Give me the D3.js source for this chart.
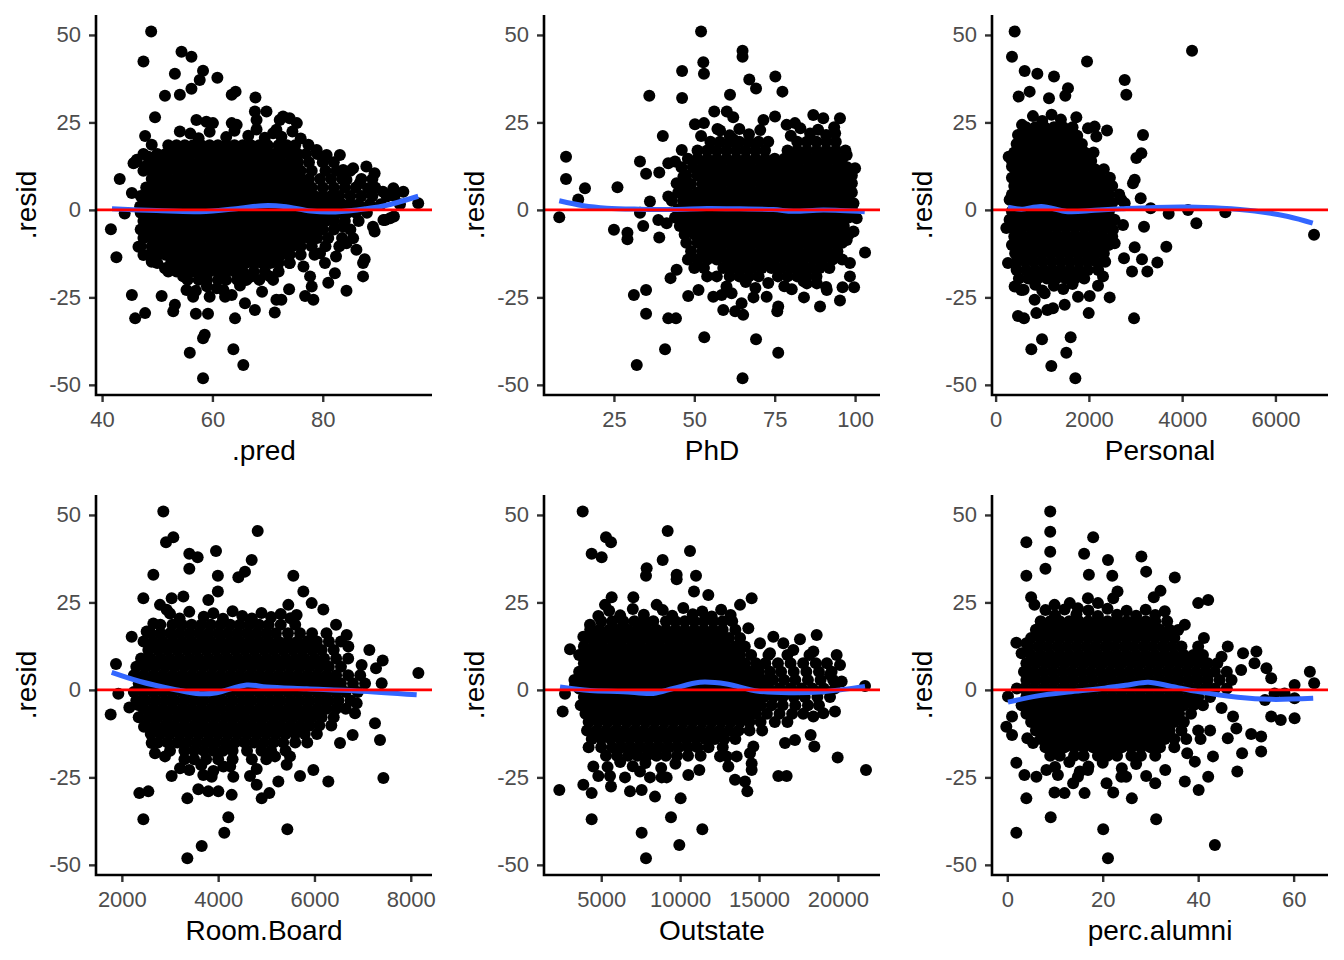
<!DOCTYPE html>
<html>
<head>
<meta charset="utf-8">
<script src="https://cdn.jsdelivr.net/npm/d3@7"></script>
<style>
  body { margin: 0; background: #fff; }
  svg { display: block; font-family: "Liberation Sans", Arial, sans-serif; }
</style>
</head>
<body>
<div id="chart"></div>
<script>
// ---------------- data ----------------
// residual axis shared by every panel
let resid_domain = [-52.9, 55.7];
let resid_ticks = [-50, -25, 0, 25, 50];

let var_names = [".pred", "PhD", "Personal", "Room.Board", "Outstate", "perc.alumni"];
let x_domains = [[38.9, 99.8], [3.25, 107.75], [-77.5, 7127.5], [1463, 8441], [1372, 22668], [-3.2, 67.2]];
let x_ticks = [[40, 60, 80], [25, 50, 75, 100], [0, 2000, 4000, 6000], [2000, 4000, 6000, 8000], [5000, 10000, 15000, 20000], [0, 20, 40, 60]];

// scattered points [x, resid]
let pred_pts = [[48.9,51],[47.5,42.4],[54.4,45.2],[56.2,43.8],[53.2,38.9],[58.3,39.8],[57.7,37.1],[56.2,34.6],[60.9,37.8],[51.4,32.6],[54.1,32.9],[49.6,26.5],[63.5,32.9],[64.2,33.8],[67.8,32.1],[67.7,28.1],[69.8,28.1],[72.2,25.7],[74,26.2],[75.3,24.8],[72.8,26.7],[47.8,21.1],[54.1,22.4],[57.1,25.7],[58.9,25.2],[60.1,24.8],[63.5,24.8],[64.4,24.3],[68,25.7],[71.6,22.9],[43.2,8.8],[45.4,4.8],[44.1,-1],[41.6,-5.5],[42.6,-13.5],[45.4,-24.3],[46,-31],[47.8,-29.5],[50.8,-24.6],[53.2,-27.1],[52.9,-29],[57,-29.7],[59.2,-29.7],[64.1,-31],[65.9,-26.7],[67.7,-28.6],[71.3,-29.3],[71.6,-25.7],[72.5,-25.7],[73.9,-22.7],[76.8,-24.6],[78.3,-25.7],[78,-21.9],[77.7,-19],[81,-20.8],[82.2,-18.1],[80.4,-15.2],[82.4,-13.3],[84.3,-23.1],[87.3,-19],[87.3,-15.2],[87.6,-14.1],[89.4,-6.2],[89.1,-4.8],[91.3,-2.9],[92.9,-1.9],[97.3,1.9],[58.3,-36.7],[58.6,-35.7],[55.9,-40.8],[63.8,-39.8],[65.6,-44.3],[58.3,-48.1],[77.4,18.6],[78.9,17.1],[80.7,15.7],[83.1,15.7],[80.1,14.8],[83.7,11.4],[85.5,11.9],[87.9,12.4],[89.4,10.5],[84.3,8.6],[86.7,7.6],[88.2,6.2],[90.9,5.2],[92.8,6.2],[94.6,5.2],[91.6,3.8],[91,-2.9],[92.2,-2.4],[45.7,13.3],[46.3,14.3],[47.8,12.4],[48.4,15.2],[49,18.6],[46.9,1],[48.1,1.9],[46.6,-10.5],[47.5,-12.9],[49,-14.8],[51.4,-16.7],[53.5,-17.6],[54.7,-19],[55.3,-22.9],[56.5,-24.8],[59.5,-24.8],[62.3,-24.8],[63.5,-24.3],[60.8,-22.4],[66.2,-20],[67.1,-19],[70.4,-19],[74,-15.2],[76.5,-16.2],[79.5,-12.4],[84.3,-9.5],[85.5,-8.1],[86.1,-11.4],[83.7,-4.8],
  [56,21.8],[57.5,20.5],[59.5,22.3],[62.5,20.8],[64,22.6],[66.5,21.2],[68,23],[69.5,20.6],[71,21.9],[72.5,20.9],[74.5,22.4],[76,20.4],
  [57,-23.1],[59,-21.8],[62,-22.9],[65,-21.6],[69,-23.4]];

let phd_pts = [[52.1,51],[52.8,42.2],[53,38.9],[65,45.5],[65,43.8],[46.2,39.7],[67.1,37.3],[69.2,34.7],[75.2,38.1],[77.4,33.8],[36,32.6],[46.2,32],[61.1,32.9],[56.2,28.1],[60.1,28.1],[62.1,26.5],[50.2,24.5],[53,24.8],[40.2,21.1],[52.1,21.1],[57.2,23.1],[62.1,20.2],[10.1,15.2],[10.1,8.8],[16,6.2],[13.9,3],[8,-2.1],[26.1,6.5],[33.1,13.8],[35,10.3],[39.1,10.7],[41.9,13.3],[44,13.8],[46.1,17.1],[36.2,2.4],[33.1,-0.8],[41.9,3.8],[44.5,7.6],[46.6,9.5],[25,-5.7],[29.2,-6.5],[29.2,-8.4],[34.1,-4.6],[39.1,-7.9],[38.8,-2.9],[41.4,-3.8],[31.2,-24.3],[35,-22.9],[35,-29.7],[41.9,-31],[44.3,-31],[42.6,-19.5],[44.5,-17.1],[48.1,-24.6],[51.3,-22.9],[53.1,-36.4],[40.9,-39.8],[32.1,-44.3],[65,-48.1],[69.2,-37],[76.1,-40.8],[55.9,-24.8],[58.5,-24.3],[61.6,-23.8],[59,-28.6],[62.7,-29],[64.7,-26.7],[65.2,-30],[68.4,-25],[72.5,-24.8],[75.8,-29],[76.1,-27.6],[80.3,-22.7],[84.1,-25],[89.1,-27.6],[95.3,-25.9],[99.7,-22.1],[96.1,-22.1],[91.2,-22.9],[85,-21],[88.1,-21],[103.1,-12.2],[100,11.9],[97.4,15.7],[95.3,26.2],[93.8,21.9],[87,27.1],[90.1,26.2],[75.1,26.7],[71.5,25.7],[78.7,24.3],[81.3,24.8],[99.5,1.9],[100.5,-2.4],[99.5,-6.2],[99,7.6],[97.4,-8.6],[98.4,-15.2],[98.4,-19],
  [58,22.7],[61,21.3],[64,23.1],[67,21.6],[70.5,22.8],[80,21.2],[83,23.3],[86,21.8],[88.5,22.9],[91,21.4],[93.5,23.6],
  [60,-21.9],[66,-20.6],[69,-22.3],[73,-20.9],[78,-21.8],[84,-20.4],[91,-22]];

let personal_pts = [[408,51],[351,43.8],[623,39.7],[895,38.9],[1252,38.1],[1960,42.4],[4212,45.5],[2768,37.1],[2803,32.9],[494,32.4],[730,33.8],[1145,31.9],[1495,32.6],[1552,34.8],[1731,26.5],[1981,23.3],[2124,23.8],[2160,21],[2389,22.7],[3161,21.4],[3125,16.2],[3018,14.8],[2982,8.6],[2946,7.6],[3111,3.3],[2696,2.9],[2768,1.9],[3325,0.5],[3711,-1.1],[4126,0],[4304,-3.8],[4926,-0.7],[6828,-7.1],[3182,-4.8],[2732,-4.3],[2982,-10.7],[2753,-13.8],[2925,-17.6],[3139,-14.1],[3254,-17.6],[3468,-15],[3661,-10.5],[2553,-9.5],[2517,-5.7],[2446,-25],[2968,-31],[1996,-29.5],[2196,-21.7],[2303,-19],[480,-30.3],[609,-31],[873,-29.5],[1109,-28.6],[1230,-28.1],[1481,-27.1],[766,-39.8],[995,-37],[1195,-44.6],[1516,-40.8],[1609,-36.4],[1710,-48.1],[551,-22.9],[408,-21.9],[837,-25.7],[1052,-23.8],[1767,-24.8],[2017,-24.6],[266,-15.2],[230,-5.2],[280,15.2],[351,12.4],[480,21.4],[566,24.3],[301,2.9],
  [800,26.8],[1000,25.4],[1200,27.2],[1400,25.8],
  [600,-22.8],[850,-21.4],[1000,-23],[1250,-21.7],[1450,-22.6],[1650,-21.2]];

let room_pts = [[2861,51],[2917,42.2],[3069,43.6],[3955,39.7],[3401,38.9],[3574,37.9],[3401,34.6],[4821,45.4],[4696,37.1],[4419,32.2],[4557,33.8],[3994,32.6],[2654,32.9],[3994,28.1],[5561,32.6],[5769,28.1],[5942,24.8],[6184,23],[2446,26.2],[3034,26.2],[3277,26.7],[2792,24.3],[2931,22.9],[3796,25.7],[5457,24.3],[5630,21.4],[2204,15.2],[2515,16.7],[2654,19],[1878,7.4],[1927,-1.1],[1768,-7],[2155,-5],[2342,-4.3],[2460,-10.5],[6448,18.6],[6669,15.7],[6704,12.4],[7140,11.4],[7417,8.4],[7278,6.2],[6980,7.1],[8158,4.8],[7396,1.9],[7257,-9.5],[7361,-14.3],[7431,-25.2],[6793,-12.9],[6531,-15.2],[6842,-6.7],[6877,-3.8],[6288,-26.2],[5977,-22.9],[5700,-24.6],[5437,-39.8],[5250,-26.2],[5063,-29.5],[4904,-31],[4661,-24.6],[4800,-27.1],[4211,-36.4],[4128,-40.8],[3658,-44.6],[3360,-48.1],[3360,-31],[3588,-28.4],[3796,-29],[4004,-29],[4281,-30],[3034,-24.6],[3208,-22.4],[2363,-29.5],[2550,-29],[2446,-37],[4315,-24.8],[4108,-21.9],[3692,-24.3],[3865,-24.8],[5181,-19],[5492,-19],[5423,-21.4],[2619,-15.2],[2688,-18.1],[2896,-19],
  [3000,21.8],[3200,20.4],[3400,22.3],[3700,20.9],[3900,21.9],[4100,20.3],[4300,22.5],[4500,21.1],[4700,20.4],[4900,22],[5100,20.8],[5300,21.7],[5500,20.5],
  [3400,-22.9],[3650,-21.5],[3900,-23.2],[4250,-21.8],[4800,-22.6]];

let outstate_pts = [[3823,51],[5302,43.6],[5619,42.2],[4393,38.9],[5027,37.9],[9210,45.4],[10626,39.7],[8893,37.1],[7879,34.8],[7837,32.6],[9780,32.9],[9780,31.6],[11006,32.6],[10879,28.1],[11787,27.1],[14534,26.2],[13795,24.3],[5661,26.5],[5238,24.3],[7034,26.5],[8513,24.3],[4816,21.1],[4288,18.6],[3865,15.2],[3020,11.6],[3654,4.3],[3337,1.4],[2703,-1.1],[2555,-6.2],[2344,-28.6],[3865,-27.1],[4393,-29.5],[4393,-37],[5619,-27.6],[5555,-24.6],[4498,-21.9],[4816,-24.6],[6823,-29],[7562,-28.6],[8408,-30.5],[6506,-25],[7457,-23.3],[8090,-25],[8830,-25],[9146,-25],[10034,-31],[9421,-36.4],[7562,-40.8],[7837,-48.1],[9949,-44.3],[11407,-39.8],[10520,-24.3],[11217,-22.9],[13478,-25.7],[14260,-29],[14112,-26.2],[14534,-22.9],[14534,-21],[16224,-24.6],[16752,-24.6],[19985,-19.3],[21781,-22.9],[18506,-16.2],[18273,-12.9],[18443,-7.6],[19076,-6.7],[19815,-6.2],[17280,-14.3],[16647,-15.2],[18654,15.7],[19921,10],[20133,7.1],[19498,4.3],[20238,2.4],[21717,1.1],[15907,15.2],[16541,13.3],[17597,14.5],[15062,13.3],[15695,10.5],[18443,11],[17175,11.4],[14323,17.6],[14428,-18.1],[14640,-16.2],[12527,-19],[13055,-21.9],[12949,-19],[13584,-19],
  [5500,22.6],[6200,21.3],[7000,23.1],[7700,21.5],[8900,22.8],[9500,21.2],[10200,23.4],[10800,21.6],[11400,22.4],[12000,21],[12600,22.9],[13200,21.4],
  [5400,-22],[6200,-20.6],[7000,-21.8],[7800,-20.9],[8800,-22.3],[9700,-21.1]];

let alumni_pts = [[9,51],[9,45.2],[9,39.5],[4,42.2],[4,32.6],[8,34.6],[18,43.6],[16.1,38.9],[21.1,37.1],[28.1,38.1],[29.1,33.8],[17.1,32.9],[22,32.6],[35.1,32.1],[32.1,28.3],[30.7,26.5],[23.1,28.1],[22.2,26.2],[16.9,26.2],[19,24.8],[5,26.5],[5.7,24.3],[9.9,24.3],[13.1,24.8],[14.8,23.3],[40,24.8],[42.1,25.7],[37.2,18.6],[35.8,17.1],[41.2,14.8],[1.9,13.5],[4,13.3],[3,10.5],[46.2,12.4],[44.9,9.5],[49.4,10.5],[52.2,11],[49,5.7],[51.8,7.6],[54.3,6.2],[55.3,3.3],[63.4,5.2],[64.3,1.9],[60.2,1.4],[58.1,-1],[60.2,-2.4],[56,-1],[54,-2.9],[55.3,-7.6],[57.3,-8.6],[60.2,-8.1],[53.2,-13.3],[51.1,-12.6],[53.2,-17.6],[49.2,-18.1],[48.2,-23.3],[48,-11],[46.2,-13.8],[47.3,-7.6],[44.9,-5.2],[43.1,-19],[42.1,-24.8],[43.5,-44.3],[40.1,-28.6],[37.2,-26.2],[39.3,-20.5],[37.7,-18.1],[33.1,-22.9],[31,-26.7],[29.1,-24.6],[31.2,-37],[26.1,-31],[23.9,-24.8],[24.9,-24.8],[22.2,-29.3],[20.8,-26.7],[20.1,-39.8],[21.1,-48.1],[16.2,-29.5],[14.8,-24.8],[16.9,-22.9],[12,-29.5],[9.9,-29.3],[10.6,-24.3],[9.1,-36.4],[4,-31],[1.9,-40.8],[3.6,-24.3],[1.9,-20.8],[6.1,-24.8],[8.2,-22.9],[0.15,-1.9],[1,-7.6],[-0.2,-10.5],[1,-12.9],[4.2,-13.8],[5.4,-15.2],[4,4.8],[13.8,-26.7],[15.2,-23.3],
  [8,22.8],[10,21.3],[12,23],[14.5,21.6],[17,22.7],[19,21.1],[21,23.2],[23,21.5],[25,22.6],[27,21.2],[29,22.9],[31,21.4],[33,22.5],
  [10,-22],[13,-20.6],[17,-21.9],[20,-20.8],[24,-22.4],[27,-21.2]];

// dense cores, one row per residual level: [resid, [x values]]
let pred_core = [
  [18.5, [52,53.5,55,56.5,58,59.5,61,62.5,64,65.5,67,68.5,70,72,73.5,75]],
  [16, [47.5,50,51.5,53,54.5,56,57.5,59,60.5,62,63.5,65,66.5,68,69.5,71,72.5,74,75.5,77,79]],
  [13.6, [46,48.5,50,51.5,53,54.5,56,57.5,59,60.5,62,63.5,65,66.5,68,69.5,71,72.5,74,75.5,77.5,80,82]],
  [11.2, [47.5,49,50.5,52,53.5,55,56.5,58,59.5,61,62.5,64,65.5,67,68.5,70,71.5,73,74.5,76,78,80.5,82.5,85]],
  [8.8, [49,50.5,52,53.5,55,56.5,58,59.5,61,62.5,64,65.5,67,68.5,70,71.5,73,74.5,76,77.5,79.5,81.5,83.5,87,89]],
  [6.4, [48,49.5,51,52.5,54,55.5,57,58.5,60,61.5,63,64.5,66,67.5,69,70.5,72,73.5,75,76.5,78,80,82,84,86,89.5]],
  [4, [47,48.5,50,51.5,53,54.5,56,57.5,59,60.5,62,63.5,65,66.5,68,69.5,71,72.5,74,75.5,77,78.5,80,81.5,83,85,87,89,93]],
  [1.6, [47.5,49,50.5,52,53.5,55,56.5,58,59.5,61,62.5,64,65.5,67,68.5,70,71.5,73,74.5,76,77.5,79,80.5,82,83.5,85,86.5,88.5,90.5,94]],
  [-0.8, [47,48.5,50,51.5,53,54.5,56,57.5,59,60.5,62,63.5,65,66.5,68,69.5,71,72.5,74,75.5,77,78.5,80,81.5,83,84.5,86,88]],
  [-3.2, [47.5,49,50.5,52,53.5,55,56.5,58,59.5,61,62.5,64,65.5,67,68.5,70,71.5,73,74.5,76,77.5,79,80.5,82,84,86.5]],
  [-5.6, [47,48.5,50,51.5,53,54.5,56,57.5,59,60.5,62,63.5,65,66.5,68,69.5,71,72.5,74,75.5,77,78.5,80,82,85]],
  [-8, [47.5,49,50.5,52,53.5,55,56.5,58,59.5,61,62.5,64,65.5,67,68.5,70,71.5,73,74.5,76,77.5,79,81,83.5]],
  [-10.4, [47,49,50.5,52,53.5,55,56.5,58,59.5,61,62.5,64,65.5,67,68.5,70,71.5,73,74.5,76,78,80.5,83]],
  [-12.8, [48.5,50,51.5,53,54.5,56,57.5,59,60.5,62,63.5,65,66.5,68,69.5,71,72.5,74,76,78.5]],
  [-15.2, [50,52.5,54,55.5,57,58.5,60,61.5,63,64.5,66,67.5,69,70.5,72,74]],
  [-17.6, [52,55,56.5,58,59.5,61,62.5,64,65.5,67.5,69.5,72]],
  [-20, [55.5,57.5,59,61,62.5,64.5,68.5,71]]
];

let phd_core = [
  [19.5, [55,58,61,64,67,70,73,82,85,88,91,94]],
  [17, [51,54,57,60,63,66,69,72,79,82,85,88,91,94,97]],
  [14.6, [48,51,54,57,60,63,66,69,72,75,78,81,84,87,90,93,96]],
  [12.2, [46,49.5,52.5,55.5,58.5,61.5,64.5,67.5,70.5,73.5,76.5,79.5,82.5,85.5,88.5,91.5,94.5,97.5]],
  [9.8, [47.5,51,54,57,60,63,66,69,72,75,78,81,84,87,90,93,96,99]],
  [7.4, [46,49,52.5,55.5,58.5,61.5,64.5,67.5,70.5,73.5,76.5,79.5,82.5,85.5,88.5,91.5,94.5,97.5]],
  [5, [45,48,51,54,57,60,63,66,69,72,75,78,81,84,87,90,93,96,99]],
  [2.6, [43,46.5,49.5,52.5,55.5,58.5,61.5,64.5,67.5,70.5,73.5,76.5,79.5,82.5,85.5,88.5,91.5,94.5,97.5]],
  [0.2, [45,48,51,54,57,60,63,66,69,72,75,78,81,84,87,90,93,96,99]],
  [-2.2, [44,47,50,53,56,59,62,65,68,71,74,77,80,83,86,89,92,95,98]],
  [-4.6, [45.5,48.5,51.5,54.5,57.5,60.5,63.5,66.5,69.5,72.5,75.5,78.5,81.5,84.5,87.5,90.5,93.5,96.5]],
  [-7, [47,50,53,56,59,62,65,68,71,74,77,80,83,86,89,92,95,98]],
  [-9.4, [47.5,51,54,57,60,63,66,69,72,75,78,81,84,87,90,93,96]],
  [-11.8, [49,52.5,55.5,58.5,61.5,64.5,67.5,70.5,73.5,76.5,79.5,82.5,85.5,88.5,91.5,94.5]],
  [-14.2, [48,51,54,57,60,63,66,69,72,75,78,81,84,87,90,93,96]],
  [-16.6, [50,53,59,62,65,68,71,74,77,80,83,86,89,92]],
  [-19, [54,57,61,64,67,70,76,79,82,85,88]]
];

let personal_core = [
  [23.6, [650,850,1050,1250,1450,1650]],
  [21.2, [550,750,950,1150,1350,1550,1750]],
  [18.8, [450,650,850,1050,1250,1450,1650,1850]],
  [16.4, [400,580,770,960,1150,1340,1530,1720,1910,2100]],
  [14, [350,530,720,910,1100,1290,1480,1670,1860,2050]],
  [11.6, [420,610,800,990,1180,1370,1560,1750,1940,2130,2320]],
  [9.2, [350,530,720,910,1100,1290,1480,1670,1860,2050,2240,2450]],
  [6.8, [400,590,780,970,1160,1350,1540,1730,1920,2110,2300,2500]],
  [4.4, [350,530,720,910,1100,1290,1480,1670,1860,2050,2240,2430,2650]],
  [2, [400,590,780,970,1160,1350,1540,1730,1920,2110,2300,2500]],
  [-0.4, [350,530,720,910,1100,1290,1480,1670,1860,2050,2240,2430]],
  [-2.8, [300,450,640,830,1020,1210,1400,1590,1780,1970,2160,2350,2550]],
  [-5.2, [370,560,750,940,1130,1320,1510,1700,1890,2080,2270,2460]],
  [-7.6, [400,590,780,970,1160,1350,1540,1730,1920,2110,2300,2500]],
  [-10, [350,530,720,910,1100,1290,1480,1670,1860,2050,2240,2420]],
  [-12.4, [420,610,800,990,1180,1370,1560,1750,1940,2130,2320]],
  [-14.8, [450,640,830,1020,1210,1400,1590,1780,1970,2160,2350]],
  [-17.2, [450,650,840,1030,1220,1410,1600,1790,1980,2200]],
  [-19.6, [500,700,900,1100,1300,1500,1700,1900]]
];

let room_core = [
  [18.6, [2800,3050,3250,3450,3650,3850,4050,4250,4450,4650,4850,5050,5300,5600]],
  [16.2, [2600,2800,3000,3200,3400,3600,3800,4000,4200,4400,4600,4800,5000,5200,5450,5700,5950,6250]],
  [13.8, [2450,2650,2850,3050,3250,3450,3650,3850,4050,4250,4450,4650,4850,5050,5250,5450,5650,5850,6050,6300,6550]],
  [11.4, [2550,2750,2950,3150,3350,3550,3750,3950,4150,4350,4550,4750,4950,5150,5350,5550,5750,5950,6150,6400]],
  [9, [2400,2600,2800,3000,3200,3400,3600,3800,4000,4200,4400,4600,4800,5000,5200,5400,5600,5800,6000,6200,6450,6700]],
  [6.6, [2300,2500,2700,2900,3100,3300,3500,3700,3900,4100,4300,4500,4700,4900,5100,5300,5500,5700,5900,6100,6300,6550]],
  [4.2, [2250,2450,2650,2850,3050,3250,3450,3650,3850,4050,4250,4450,4650,4850,5050,5250,5450,5650,5850,6050,6250,6450,6700,6950]],
  [1.8, [2350,2550,2750,2950,3150,3350,3550,3750,3950,4150,4350,4550,4750,4950,5150,5350,5550,5750,5950,6150,6350,6550,6800,7050]],
  [-0.6, [2250,2450,2650,2850,3050,3250,3450,3650,3850,4050,4250,4450,4650,4850,5050,5250,5450,5650,5850,6050,6250,6450,6650,6900]],
  [-3, [2300,2500,2700,2900,3100,3300,3500,3700,3900,4100,4300,4500,4700,4900,5100,5300,5500,5700,5900,6100,6300,6500,6750]],
  [-5.4, [2450,2650,2850,3050,3250,3450,3650,3850,4050,4250,4450,4650,4850,5050,5250,5450,5650,5850,6050,6250,6450,6650]],
  [-7.8, [2350,2550,2750,2950,3150,3350,3550,3750,3950,4150,4350,4550,4750,4950,5150,5350,5550,5750,5950,6150,6400]],
  [-10.2, [2500,2700,2900,3100,3300,3500,3700,3900,4100,4300,4500,4700,4900,5100,5300,5500,5700,5900,6100,6350]],
  [-12.6, [2600,2800,3000,3200,3400,3600,3800,4000,4200,4400,4600,4800,5000,5200,5400,5600,5800,6050]],
  [-15, [2750,2950,3150,3350,3550,3750,3950,4150,4350,4550,4750,4950,5150,5350,5600,5850]],
  [-17.4, [3000,3300,3500,3700,3900,4100,4300,4600,4900,5100,5400]],
  [-19.8, [3300,3500,3750,4000,4300,4700,5000]]
];

let outstate_core = [
  [19.6, [5000,5700,6400,7100,7700,8300,9100,9700,10300,10900,11500,12100,12700,13300]],
  [17.2, [4300,4900,5500,6100,6700,7300,7900,8500,9100,9700,10300,10900,11500,12100,12700,13500]],
  [14.8, [4100,4700,5300,5900,6500,7100,7700,8300,8900,9500,10100,10700,11300,11900,12500,13100,13800]],
  [12.4, [3900,4500,5100,5700,6300,6900,7500,8100,8700,9300,9900,10500,11100,11700,12300,12900,13500,14100]],
  [10, [3600,4200,4800,5400,6000,6600,7200,7800,8400,9000,9600,10200,10800,11400,12000,12600,13200,13800,14500,15600,16800,18200]],
  [7.6, [3900,4500,5100,5700,6300,6900,7500,8100,8700,9300,9900,10500,11100,11700,12300,12900,13500,14100,14800,15400,16200,17000,17800,18600,19300]],
  [5.2, [3600,4200,4800,5400,6000,6600,7200,7800,8400,9000,9600,10200,10800,11400,12000,12600,13200,13800,14400,15000,15700,16400,17200,18000,18800,19600]],
  [2.8, [3300,3900,4500,5100,5700,6300,6900,7500,8100,8700,9300,9900,10500,11100,11700,12300,12900,13500,14100,14700,15300,15900,16600,17300,18100,18900,19700]],
  [0.4, [3600,4200,4800,5400,6000,6600,7200,7800,8400,9000,9600,10200,10800,11400,12000,12600,13200,13800,14400,15000,15600,16300,17000,17700,18400,19100,19800]],
  [-2, [3900,4500,5100,5700,6300,6900,7500,8100,8700,9300,9900,10500,11100,11700,12300,12900,13500,14100,14700,15300,15900,16500,17200,17900,18700,19500]],
  [-4.4, [3700,4300,4900,5500,6100,6700,7300,7900,8500,9100,9700,10300,10900,11500,12100,12700,13300,13900,14500,15100,15800,16500,17300,18100,18800]],
  [-6.8, [4000,4600,5200,5800,6400,7000,7600,8200,8800,9400,10000,10600,11200,11800,12400,13000,13600,14200,14800,15500,16300,17100,17800]],
  [-9.2, [4200,4800,5400,6000,6600,7200,7800,8400,9000,9600,10200,10800,11400,12000,12600,13200,13800,14400,15100,16000,16800]],
  [-11.6, [4100,4700,5300,5900,6500,7100,7700,8300,8900,9500,10100,10700,11300,11900,12500,13100,13700,14400,15200]],
  [-14, [4400,5000,5600,6200,6800,7400,8000,8600,9200,9800,10400,11000,11600,12200,12800,13500]],
  [-16.4, [4200,5000,5700,6300,6900,7500,8100,8700,9300,9900,10500,11100,11800,12700]],
  [-18.8, [5300,6000,6700,7300,7900,8500,9100,9800,10500,11300]]
];

let alumni_core = [
  [19.6, [7,9,11,13,15,17,19,21,23,25,27,29,31,33.5]],
  [17.2, [6,8,10,12,14,16,18,20,22,24,26,28,30,32,34]],
  [14.8, [5,7,9,11,13,15,17,19,21,23,25,27,29,31,33,35]],
  [12.4, [4.5,6.5,8.5,10.5,12.5,14.5,16.5,18.5,20.5,22.5,24.5,26.5,28.5,30.5,32.5,34.5,36.5,40]],
  [10, [5,7,9,11,13,15,17,19,21,23,25,27,29,31,33,35,37,39,41]],
  [7.6, [4,6,8,10,12,14,16,18,20,22,24,26,28,30,32,34,36,38,40,42,44]],
  [5.2, [3.5,5.5,7.5,9.5,11.5,13.5,15.5,17.5,19.5,21.5,23.5,25.5,27.5,29.5,31.5,33.5,35.5,37.5,39.5,41.5,43.5,46]],
  [2.8, [4,6,8,10,12,14,16,18,20,22,24,26,28,30,32,34,36,38,40,42,44.5,47]],
  [0.4, [2,3.5,5.5,7.5,9.5,11.5,13.5,15.5,17.5,19.5,21.5,23.5,25.5,27.5,29.5,31.5,33.5,35.5,37.5,39.5,41.5,43.5,46]],
  [-2, [4,6,8,10,12,14,16,18,20,22,24,26,28,30,32,34,36,38,40,42.5]],
  [-4.4, [3,5,7,9,11,13,15,17,19,21,23,25,27,29,31,33,35,37,39,41]],
  [-6.8, [4,6,8,10,12,14,16,18,20,22,24,26,28,30,32,34,36,38.5]],
  [-9.2, [5,7,9,11,13,15,17,19,21,23,25,27,29,31,33,35,37]],
  [-11.6, [6,8,10,12,14,16,18,20,22,24,26,28,30,32,34,36.5,40,42.5]],
  [-14, [7,9,11,13,15,17,19,21,23,25,27,29,31,33,35,37.5,40.5]],
  [-16.4, [8,10,12,14,16,18,20,22,24,26,28,30,32,35]],
  [-18.8, [9,11,14,16,19,21,23,26,28,31]]
];

// loess curves [x, resid]
let pred_smooth = [[41.8,0.3],[49.9,-0.2],[57.8,-0.5],[65,0.5],[69.2,1.2],[72.9,1],[77.8,-0.3],[81.4,-0.6],[86.2,0],[91,1.1],[97.3,3.9]];
let phd_smooth = [[8,2.6],[15.5,1.2],[22.8,0.5],[33.1,0.2],[43.5,0.1],[53.9,0.4],[64.2,0.3],[74.6,0.1],[80.8,-0.4],[90.1,0],[103,-0.5]];
let personal_smooth = [[266,0.8],[551,0.2],[980,1],[1552,-0.5],[2125,-0.1],[2697,0.3],[3412,0.7],[4126,0.8],[4841,0.5],[5556,-0.3],[6270,-1.9],[6800,-3.8]];
let room_smooth = [[1789,5],[2377,2.4],[3069,0.2],[3623,-1.1],[3970,-0.8],[4593,1.4],[5008,0.8],[5839,0.3],[6877,-0.3],[8123,-1.4]];
let outstate_smooth = [[2386,0.8],[4287,-0.2],[6398,-0.5],[8300,-1],[9567,0.4],[11259,2.2],[12949,1.7],[14851,-0.3],[16963,-0.8],[19074,-0.5],[21717,1]];
let alumni_smooth = [[0.15,-3.5],[6.4,-1.7],[13.4,-0.5],[20.4,0.5],[25.3,1.4],[29.5,2.2],[34.4,1],[40,-0.5],[48.3,-2.1],[55.3,-2.7],[64.1,-2.4]];

// ---------------- layout ----------------
let svg_width = 1344;
let svg_height = 960;
let panel_w = 336;
let panel_h = 380;
let col_x = [96, 544, 992];     // left edge of each column's panel
let row_y = [15, 495];          // top edge of each row's panel
let dot_r = 6;

let all_pts = [pred_pts, phd_pts, personal_pts, room_pts, outstate_pts, alumni_pts];
let all_cores = [pred_core, phd_core, personal_core, room_core, outstate_core, alumni_core];
let all_smooth = [pred_smooth, phd_smooth, personal_smooth, room_smooth, outstate_smooth, alumni_smooth];

let svg = d3.select('#chart')
    .append('svg')
    .attr('width', svg_width)
    .attr('height', svg_height);

let y = d3.scaleLinear().domain(resid_domain).range([panel_h, 0]);

var_names.forEach(function(name, i) {
    let g = svg.append('g')
        .attr('transform', 'translate(' + col_x[i % 3] + ',' + row_y[Math.floor(i / 3)] + ')');

    let x = d3.scaleLinear().domain(x_domains[i]).range([0, panel_w]);

    // flatten core rows into [x, resid] points
    let pts = all_pts[i].slice();
    all_cores[i].forEach(function(row) {
        row[1].forEach(function(v) { pts.push([v, row[0]]); });
    });

    g.selectAll('circle')
        .data(pts)
        .enter()
        .append('circle')
        .attr('cx', function(d) { return x(d[0]); })
        .attr('cy', function(d) { return y(d[1]); })
        .attr('r', dot_r)
        .attr('fill', '#000');

    // loess smooth
    let line = d3.line()
        .x(function(d) { return x(d[0]); })
        .y(function(d) { return y(d[1]); })
        .curve(d3.curveCatmullRom);
    g.append('path')
        .datum(all_smooth[i])
        .attr('d', line)
        .attr('fill', 'none')
        .attr('stroke', '#3366FF')
        .attr('stroke-width', 5);

    // zero line
    g.append('line')
        .attr('x1', 0).attr('x2', panel_w)
        .attr('y1', y(0)).attr('y2', y(0))
        .attr('stroke', '#FF0000')
        .attr('stroke-width', 2.6);

    // axes
    let fmt = function(d) { return String(d); };
    let gx = g.append('g')
        .attr('transform', 'translate(0,' + panel_h + ')')
        .call(d3.axisBottom(x).tickValues(x_ticks[i]).tickSize(7).tickPadding(9).tickFormat(fmt));
    let gy = g.append('g')
        .call(d3.axisLeft(y).tickValues(resid_ticks).tickSize(7).tickPadding(8).tickFormat(fmt));

    [gx, gy].forEach(function(a) {
        a.select('.domain').remove();
        a.attr('font-size', 22).attr('font-family', '"Liberation Sans", Arial, sans-serif');
        a.selectAll('.tick line').attr('stroke', '#333').attr('stroke-width', 2.4);
        a.selectAll('.tick text').attr('fill', '#4D4D4D');
    });

    g.append('path')
        .attr('d', 'M0,0V' + panel_h + 'H' + panel_w)
        .attr('fill', 'none')
        .attr('stroke', '#000')
        .attr('stroke-width', 2.6);

    // axis titles
    g.append('text')
        .attr('x', panel_w / 2)
        .attr('y', panel_h + 65)
        .attr('text-anchor', 'middle')
        .attr('font-size', 28)
        .text(name);

    g.append('text')
        .attr('transform', 'translate(-60,' + (panel_h / 2) + ') rotate(-90)')
        .attr('text-anchor', 'middle')
        .attr('font-size', 28)
        .text('.resid');
});
</script>
</body>
</html>
